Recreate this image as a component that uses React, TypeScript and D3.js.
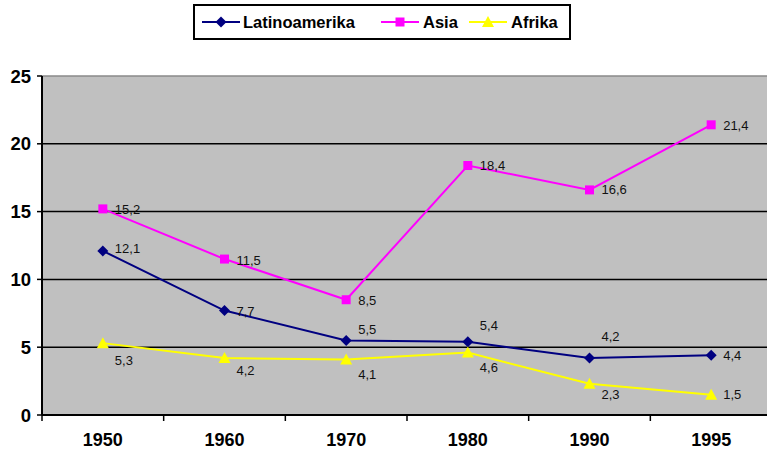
import React from "react";
import * as d3 from "d3";

const categories = ["1950", "1960", "1970", "1980", "1990", "1995"];
const latinoamerika = [12.1, 7.7, 5.5, 5.4, 4.2, 4.4];
const asia = [15.2, 11.5, 8.5, 18.4, 16.6, 21.4];
const afrika = [5.3, 4.2, 4.1, 4.6, 2.3, 1.5];
const yTicks = [0, 5, 10, 15, 20, 25];

// label vertical offsets (style, not data)
const latinoDy = [-2, 1, -11, -16, -22, 0];
const asiaDy = [1, 1, 1, 0, 0, 1];
const afrikaDy = [17, 12, 15, 15, 11, 0];

const W = 767;
const H = 452;
const left = 42;
const right = 772;
const top = 76;
const bottom = 415;

const fmt = (v: number) => String(v).replace(".", ",");
const FONT = "Liberation Sans, Arial, sans-serif";

export default function App() {
  const x = d3.scaleBand<string>().domain(categories).range([left, right]).padding(0);
  const y = d3.scaleLinear().domain([0, 25]).range([bottom, top]);
  const cx = (c: string) => (x(c) as number) + x.bandwidth() / 2;

  const line = d3
    .line<number>()
    .x((_, i) => cx(categories[i]))
    .y((d) => y(d));

  const series = [
    { name: "Latinoamerika", values: latinoamerika, color: "#000080", marker: "diamond", dy: latinoDy },
    { name: "Asia", values: asia, color: "#FF00FF", marker: "square", dy: asiaDy },
    { name: "Afrika", values: afrika, color: "#FFFF00", marker: "triangle", dy: afrikaDy },
  ];

  const symbolPath = (m: string) => {
    if (m === "diamond") return "M0,-5.5L5.5,0L0,5.5L-5.5,0Z";
    if (m === "square") return "M-4.5,-4.5H4.5V4.5H-4.5Z";
    return "M0,-6L6,5H-6Z";
  };

  const legendItems = [
    { x: 202, tx: 243 },
    { x: 381, tx: 423 },
    { x: 469, tx: 511 },
  ];

  return (
    <svg width={W} height={H} style={{ position: "absolute", left: 0, top: 0, display: "block" }}>
      <rect x={0} y={0} width={W} height={H} fill="#ffffff" />
      <rect x={left} y={top} width={right - left} height={bottom - top} fill="#C0C0C0" />
      <line x1={left} x2={right} y1={y(25)} y2={y(25)} stroke="#8a8a8a" strokeWidth={1.5} />
      {yTicks
        .filter((t) => t > 0 && t < 25)
        .map((t) => (
          <line key={t} x1={left} x2={right} y1={y(t)} y2={y(t)} stroke="#000" strokeWidth={1.5} />
        ))}
      <line x1={left} x2={left} y1={top} y2={bottom} stroke="#000" strokeWidth={2} />
      <line x1={left} x2={right} y1={bottom} y2={bottom} stroke="#000" strokeWidth={2} />
      {yTicks.map((t) => (
        <g key={"yt" + t}>
          <line x1={left - 5} x2={left} y1={y(t)} y2={y(t)} stroke="#000" strokeWidth={1.5} />
          <text
            x={31}
            y={y(t)}
            textAnchor="end"
            dominantBaseline="central"
            fontFamily={FONT}
            fontWeight="bold"
            fontSize={18.5}
            fill="#000"
          >
            {t}
          </text>
        </g>
      ))}
      {categories.map((c) => (
        <g key={"xt" + c}>
          <line x1={x(c) as number} x2={x(c) as number} y1={bottom} y2={bottom + 6} stroke="#000" strokeWidth={1.5} />
          <text
            x={cx(c)}
            y={440}
            textAnchor="middle"
            dominantBaseline="central"
            fontFamily={FONT}
            fontWeight="bold"
            fontSize={18}
            fill="#000"
          >
            {c}
          </text>
        </g>
      ))}
      {series.map((s) => (
        <g key={s.name}>
          <path d={line(s.values) || ""} fill="none" stroke={s.color} strokeWidth={2} />
          {s.values.map((v, i) => (
            <path
              key={i}
              d={symbolPath(s.marker)}
              transform={`translate(${cx(categories[i])},${y(v)})`}
              fill={s.color}
            />
          ))}
          {s.values.map((v, i) => (
            <text
              key={"l" + i}
              x={cx(categories[i]) + 12}
              y={y(v) + s.dy[i]}
              dominantBaseline="central"
              fontFamily={FONT}
              fontSize={13}
              fill="#111"
            >
              {fmt(v)}
            </text>
          ))}
        </g>
      ))}
      <rect x={194} y={5} width={376} height={34} fill="#fff" stroke="#000" strokeWidth={2} />
      {series.map((s, i) => (
        <g key={"lg" + s.name}>
          <line x1={legendItems[i].x} x2={legendItems[i].x + 38} y1={22} y2={22} stroke={s.color} strokeWidth={2} />
          <path d={symbolPath(s.marker)} transform={`translate(${legendItems[i].x + 19},22)`} fill={s.color} />
          <text
            x={legendItems[i].tx}
            y={22}
            dominantBaseline="central"
            fontFamily={FONT}
            fontWeight="bold"
            fontSize={16.5}
            fill="#000"
          >
            {s.name}
          </text>
        </g>
      ))}
    </svg>
  );
}
